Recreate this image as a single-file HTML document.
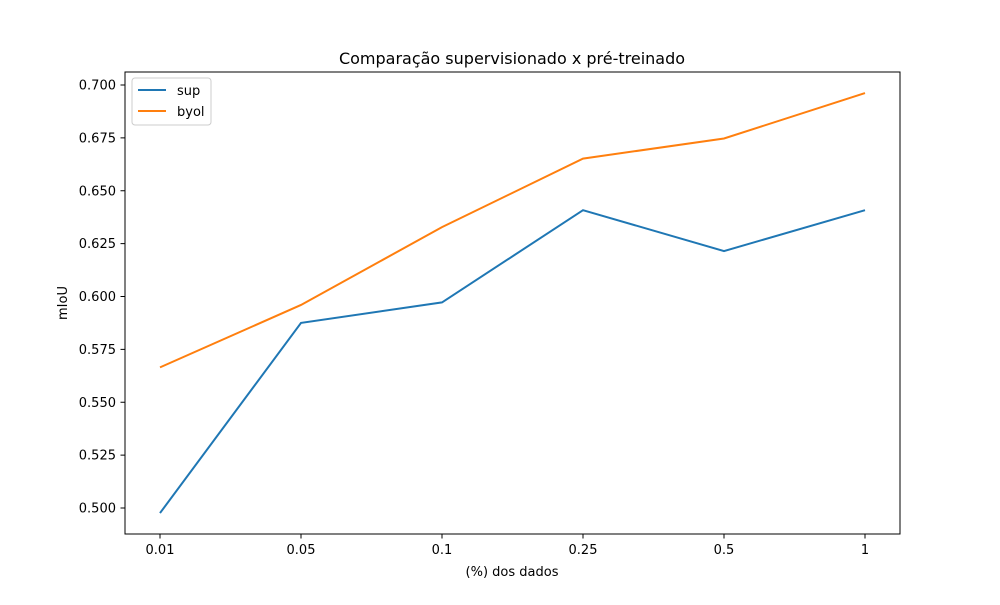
<!DOCTYPE html>
<html><head><meta charset="utf-8"><style>
body{margin:0;background:#fff;font-family:"Liberation Sans","DejaVu Sans",sans-serif}
svg text{font-family:"DejaVu Sans","Liberation Sans",sans-serif}
</style></head><body>
<svg id="chart" width="1000" height="600" viewBox="0 0 1000 600">
<rect width="1000" height="600" fill="#fff"/>
<text x="512" y="64" font-size="16" text-anchor="middle">Comparação supervisionado x pré-treinado</text>
<g id="axes"></g>
<rect x="125" y="72" width="775" height="462" fill="none" stroke="#000" stroke-width="1"/>
<text x="512" y="576" font-size="13" text-anchor="middle">(%) dos dados</text>
<text transform="translate(67,303) rotate(-90)" font-size="13" text-anchor="middle">mIoU</text>
<g>
<rect x="132" y="78" width="79" height="47" rx="3" fill="#fff" stroke="#ccc"/>
<line x1="138" y1="90" x2="166" y2="90" stroke="#1f77b4" stroke-width="2"/>
<text x="177" y="95" font-size="13">sup</text>
<line x1="138" y1="111" x2="166" y2="111" stroke="#ff7f0e" stroke-width="2"/>
<text x="177" y="116" font-size="13">byol</text>
</g>
</svg>
<script>
const categories = ["0.01","0.05","0.1","0.25","0.5","1"];
const supValues = [0.4976, 0.5875, 0.5972, 0.6408, 0.6215, 0.6408];
const byolValues = [0.5665, 0.5960, 0.6328, 0.6652, 0.6747, 0.6962];
const yTicks = [0.500,0.525,0.550,0.575,0.600,0.625,0.650,0.675,0.700];

const NS="http://www.w3.org/2000/svg";
const g=document.getElementById('axes');
const xScale=i=>160+i*(705/(categories.length-1));
const yScale=v=>85+(0.700-v)*2115;
function el(t,a){const e=document.createElementNS(NS,t);for(const k in a)e.setAttribute(k,a[k]);g.appendChild(e);return e;}
categories.forEach((c,i)=>{
  const x=xScale(i);
  const t=el('line',{x1:x,y1:534,x2:x,y2:538.5,stroke:'#000'});
  
  
  const l=el('text',{x:x,y:554,'font-size':13,'text-anchor':'middle'});l.textContent=c;
  
  
});
yTicks.forEach(v=>{
  const y=yScale(v);
  const t=el('line',{x1:120.5,y1:y,x2:125,y2:y,stroke:'#000'});
  
  
  const l=el('text',{x:116,y:y+4.5,'font-size':13,'text-anchor':'end'});l.textContent=v.toFixed(3);
  
  
});
function series(vals,color,name){
  const p=el('polyline',{points:vals.map((v,i)=>xScale(i)+','+yScale(v)).join(' '),fill:'none',stroke:color,'stroke-width':2});
  
  
}
series(supValues,'#1f77b4','sup-line');
series(byolValues,'#ff7f0e','byol-line');
</script>
</body></html>
